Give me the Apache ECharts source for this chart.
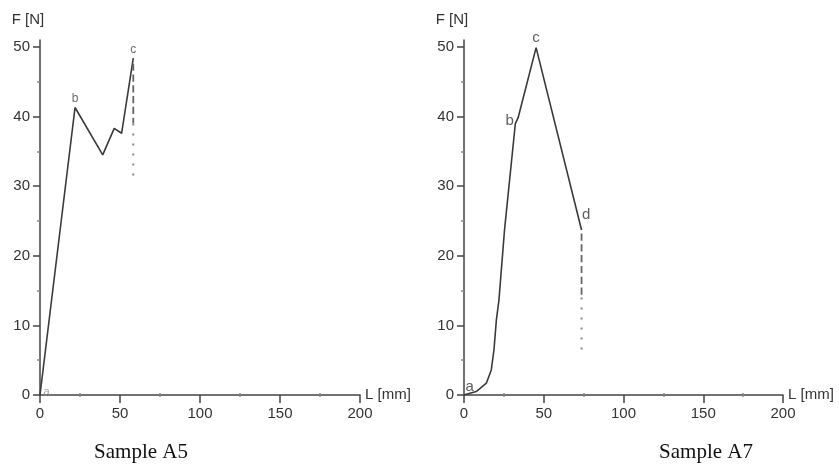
<!DOCTYPE html>
<html>
<head>
<meta charset="utf-8">
<script src="https://cdn.jsdelivr.net/npm/echarts@6/dist/echarts.min.js"></script>
<style>html,body{margin:0;padding:0;background:#fff}#c{width:839px;height:467px}</style>
</head>
<body>
<div id="c"></div>
<script>
// Sample A5
var a5L = [0, 21.9, 39.2, 46.4, 51, 58.3];
var a5F = [0, 41.3, 34.5, 38.3, 37.6, 48.4];
var a5DashL = [58.3, 58.3];
var a5DashF = [47.6, 39];
var a5DotL = [58.3, 58.3];
var a5DotF = [39, 30.6];
var a5Marks = [{i: 0, t: 'a'}, {i: 1, t: 'b'}, {i: 5, t: 'c'}];

// Sample A7
var a7L = [0, 1.5, 7.7, 14, 17.1, 18.8, 20.3, 21.9, 25.4, 32.2, 33.9, 45.2, 73.7];
var a7F = [0, 0.1, 0.5, 1.7, 3.6, 6.5, 10.8, 13.6, 23.7, 39.0, 39.8, 49.9, 23.7];
var a7DashL = [73.7, 73.7];
var a7DashF = [23.2, 14];
var a7DotL = [73.7, 73.7];
var a7DotF = [14, 6.5];
var a7Marks = [{i: 0, t: 'a'}, {i: 9, t: 'b'}, {i: 11, t: 'c'}, {i: 12, t: 'd'}];

var xTicks = [0, 50, 100, 150, 200];
var xMinor = [25, 75, 125, 175];
var yTicks = [0, 10, 20, 30, 40, 50];
var yMinor = [5, 15, 25, 35, 45];
var captions = ['Sample A5', 'Sample A7'];

function pairs(xs, ys) { return xs.map(function (x, i) { return [x, ys[i]]; }); }

var AX = '#444';
var FONT = '"Liberation Sans", Arial, sans-serif';

function xAxes(g) {
  return [{
    type: 'value', gridIndex: g, min: 0, max: 200, interval: 50,
    name: 'L [mm]', nameLocation: 'end', nameGap: 5,
    nameTextStyle: {color: '#333', fontSize: 15, fontFamily: FONT, verticalAlign: 'middle', padding: [0, 0, 10, 0]},
    axisLine: {show: true, onZero: false, lineStyle: {color: AX, width: 1.5}},
    axisTick: {show: true, length: 8, lineStyle: {color: AX, width: 1.5}, customValues: xTicks},
    axisLabel: {color: '#333', fontSize: 15, fontFamily: FONT, margin: 11, customValues: xTicks},
    splitLine: {show: false}
  }, {
    type: 'value', gridIndex: g, min: 0, max: 200, position: 'bottom', offset: -2,
    axisLine: {show: false},
    axisTick: {show: true, length: 4, lineStyle: {color: '#888', width: 1.5}, customValues: xMinor},
    axisLabel: {show: false},
    splitLine: {show: false}
  }];
}
function yAxes(g) {
  return [{
    type: 'value', gridIndex: g, min: 0, max: 51,
    name: 'F [N]', nameLocation: 'end', nameGap: 13,
    nameTextStyle: {color: '#333', fontSize: 15, fontFamily: FONT, align: 'center', padding: [0, 24, 0, 0]},
    axisLine: {show: true, onZero: false, lineStyle: {color: AX, width: 1.5}},
    axisTick: {show: true, length: 7, lineStyle: {color: AX, width: 1.5}, customValues: yTicks},
    axisLabel: {color: '#333', fontSize: 15, fontFamily: FONT, margin: 10, customValues: yTicks},
    splitLine: {show: false}
  }, {
    type: 'value', gridIndex: g, min: 0, max: 51, position: 'left',
    axisLine: {show: false},
    axisTick: {show: true, length: 3, lineStyle: {color: '#888', width: 1.5}, customValues: yMinor},
    axisLabel: {show: false},
    splitLine: {show: false}
  }];
}

function lineSeries(xi, yi, data, style) {
  return {
    type: 'line', xAxisIndex: xi, yAxisIndex: yi, data: data,
    symbol: 'none', silent: true, animation: false,
    lineStyle: style
  };
}
function markSeries(xi, yi, xs, ys, marks, labelCfg) {
  return {
    type: 'scatter', xAxisIndex: xi, yAxisIndex: yi, symbolSize: 1, silent: true, animation: false,
    itemStyle: {color: 'rgba(0,0,0,0)'},
    data: marks.map(function (m) {
      var c = labelCfg[m.t];
      return {value: [xs[m.i], ys[m.i]], label: Object.assign({show: true, formatter: m.t, fontFamily: FONT}, c)};
    })
  };
}

var solid = {color: '#3a3a3a', width: 1.6};
var dashed = {color: '#666', width: 1.8, type: 'dashed', dashOffset: 0};
var dotted = {color: '#888', width: 2, type: [2, 8]};

var option = {
  backgroundColor: '#fff',
  animation: false,
  grid: [
    {left: 40, top: 40, width: 320, height: 355},
    {left: 464, top: 40, width: 319, height: 355}
  ],
  xAxis: xAxes(0).concat(xAxes(1)),
  yAxis: yAxes(0).concat(yAxes(1)),
  series: [
    lineSeries(0, 0, pairs(a5L, a5F), solid),
    lineSeries(0, 0, pairs(a5DashL, a5DashF), dashed),
    lineSeries(0, 0, pairs(a5DotL, a5DotF), dotted),
    markSeries(0, 0, a5L, a5F, a5Marks, {
      a: {position: 'right', distance: 3, offset: [0, -3], fontSize: 11, color: '#888'},
      b: {position: 'top', distance: 2, fontSize: 12, color: '#444'},
      c: {position: 'top', distance: 2, fontSize: 12, color: '#444'}
    }),
    lineSeries(2, 2, pairs(a7L, a7F), solid),
    lineSeries(2, 2, pairs(a7DashL, a7DashF), dashed),
    lineSeries(2, 2, pairs(a7DotL, a7DotF), dotted),
    markSeries(2, 2, a7L, a7F, a7Marks, {
      a: {position: 'right', distance: 1, offset: [0, -8], fontSize: 15, color: '#333'},
      b: {position: 'left', distance: 1, offset: [0, -3], fontSize: 15, color: '#333'},
      c: {position: 'top', distance: 2, fontSize: 15, color: '#333'},
      d: {position: 'right', distance: 0, offset: [0, -15], fontSize: 15, color: '#333'}
    })
  ],
  graphic: [
    {type: 'text', x: 141, y: 463, style: {text: captions[0], textAlign: 'center', textVerticalAlign: 'bottom', font: '21px "Liberation Serif", "Times New Roman", serif', fill: '#111'}},
    {type: 'text', x: 706, y: 463, style: {text: captions[1], textAlign: 'center', textVerticalAlign: 'bottom', font: '21px "Liberation Serif", "Times New Roman", serif', fill: '#111'}}
  ]
};

var chart = echarts.init(document.getElementById('c'), null, {renderer: 'canvas'});
chart.setOption(option);
</script>
</body>
</html>
